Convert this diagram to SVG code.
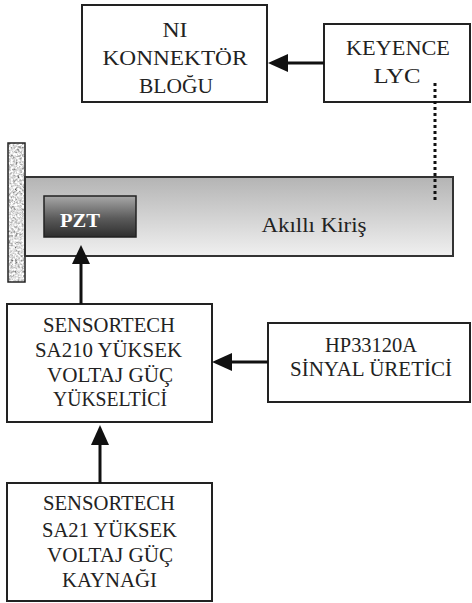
<svg xmlns="http://www.w3.org/2000/svg" width="472" height="603" viewBox="0 0 472 603">
<style>
.box{fill:#fff;stroke:#222;stroke-width:2}
.t{font-family:"Liberation Serif","Times New Roman",serif;font-size:21px;fill:#222;text-anchor:middle}
.ln{stroke:#111;stroke-width:3;fill:none}
.ah{fill:#111}
</style>
<defs>
<linearGradient id="beamG" x1="0" y1="0" x2="0" y2="1">
<stop offset="0" stop-color="#b4b4b4"/>
<stop offset="1" stop-color="#f0f0f0"/>
</linearGradient>
<linearGradient id="pztG" x1="0" y1="0" x2="0" y2="1">
<stop offset="0" stop-color="#a8a8a8"/>
<stop offset="0.55" stop-color="#5a5a5a"/>
<stop offset="1" stop-color="#2e2e2e"/>
</linearGradient>
<filter id="granite" x="0" y="0" width="100%" height="100%">
<feTurbulence type="fractalNoise" baseFrequency="0.45" numOctaves="3" seed="7" result="n"/>
<feColorMatrix in="n" type="matrix" values="0.33 0.33 0.33 0 0  0.33 0.33 0.33 0 0  0.33 0.33 0.33 0 0  0 0 0 0 1" result="g"/>
<feComponentTransfer in="g"><feFuncR type="linear" slope="3" intercept="-0.75"/><feFuncG type="linear" slope="3" intercept="-0.75"/><feFuncB type="linear" slope="3" intercept="-0.75"/></feComponentTransfer>
</filter>
</defs>
<rect width="472" height="603" fill="#fff"/>

<g id="wall">
<rect x="8" y="143" width="17" height="139" fill="#999" filter="url(#granite)"/>
<rect x="8" y="143" width="17" height="139" fill="none" stroke="#222" stroke-width="1.5"/>
</g>

<g id="beam">
<rect x="25" y="177" width="428" height="79" fill="url(#beamG)" stroke="#333" stroke-width="2"/>
<text class="t" x="314" y="232" textLength="105" lengthAdjust="spacingAndGlyphs">Akıllı Kiriş</text>
</g>

<g id="pzt">
<rect x="44" y="196" width="92" height="41" fill="url(#pztG)" stroke="#222" stroke-width="1.5"/>
<text x="80" y="227" font-family="Liberation Serif, serif" font-size="19" font-weight="bold" fill="#fff" text-anchor="middle" textLength="40" lengthAdjust="spacingAndGlyphs">PZT</text>
</g>

<g id="ni">
<rect class="box" x="82" y="5" width="185" height="97"/>
<text class="t" x="175" y="37" textLength="25" lengthAdjust="spacingAndGlyphs">NI</text>
<text class="t" x="175" y="65" textLength="145" lengthAdjust="spacingAndGlyphs">KONNEKTÖR</text>
<text class="t" x="176" y="93" textLength="74" lengthAdjust="spacingAndGlyphs">BLOĞU</text>
</g>

<g id="keyence">
<rect class="box" x="324" y="24" width="146" height="78"/>
<text class="t" x="398" y="55" textLength="104" lengthAdjust="spacingAndGlyphs">KEYENCE</text>
<text class="t" x="397" y="83" textLength="47" lengthAdjust="spacingAndGlyphs">LYC</text>
</g>

<g id="amp">
<rect class="box" x="7" y="304" width="205" height="118"/>
<text class="t" x="109" y="332" textLength="132" lengthAdjust="spacingAndGlyphs">SENSORTECH</text>
<text class="t" x="108.5" y="357" textLength="147" lengthAdjust="spacingAndGlyphs">SA210 YÜKSEK</text>
<text class="t" x="110" y="382" textLength="126" lengthAdjust="spacingAndGlyphs">VOLTAJ GÜÇ</text>
<text class="t" x="110" y="406" textLength="114" lengthAdjust="spacingAndGlyphs">YÜKSELTİCİ</text>
</g>

<g id="hp">
<rect class="box" x="268" y="323" width="202" height="79"/>
<text class="t" x="371" y="352" textLength="92" lengthAdjust="spacingAndGlyphs">HP33120A</text>
<text class="t" x="371" y="376" textLength="162" lengthAdjust="spacingAndGlyphs">SİNYAL ÜRETİCİ</text>
</g>

<g id="supply">
<rect class="box" x="7" y="483" width="205" height="118"/>
<text class="t" x="109" y="510" textLength="132" lengthAdjust="spacingAndGlyphs">SENSORTECH</text>
<text class="t" x="109.5" y="537" textLength="135" lengthAdjust="spacingAndGlyphs">SA21 YÜKSEK</text>
<text class="t" x="110" y="562" textLength="126" lengthAdjust="spacingAndGlyphs">VOLTAJ GÜÇ</text>
<text class="t" x="109.5" y="587" textLength="95" lengthAdjust="spacingAndGlyphs">KAYNAĞI</text>
</g>

<g id="connectors">
<line class="ln" x1="324" y1="63" x2="285" y2="63"/>
<polygon class="ah" points="268,63 288,54 288,72"/>
<line x1="435" y1="83" x2="435" y2="203" stroke="#111" stroke-width="3" stroke-dasharray="3 3"/>
<line class="ln" x1="81" y1="304" x2="81" y2="260"/>
<polygon class="ah" points="81,245 72,264 90,264"/>
<line class="ln" x1="268" y1="362" x2="229" y2="362"/>
<polygon class="ah" points="212,362 232,353 232,371"/>
<line class="ln" x1="100" y1="483" x2="100" y2="442"/>
<polygon class="ah" points="100,425 91,445 109,445"/>
</g>
</svg>
